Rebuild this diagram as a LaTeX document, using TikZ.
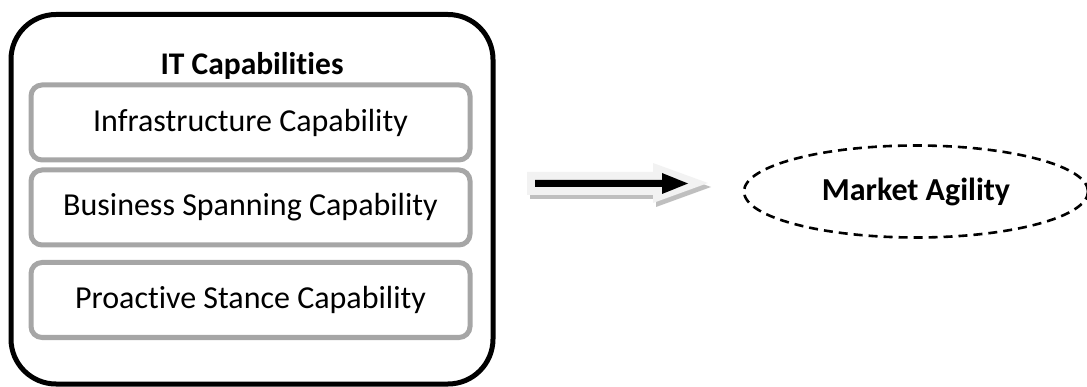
\documentclass[tikz,border=0pt]{standalone}
\usepackage{fontspec}
\setmainfont{Carlito}[Ligatures={NoCommon}]
\usetikzlibrary{shapes.geometric}
\definecolor{boxgray}{HTML}{A6A6A6}
\definecolor{arrowlight}{HTML}{F2F2F2}
\definecolor{arrowshadow}{HTML}{BFBFBF}
\tikzset{
  outerbox/.style={draw=black, line width=5pt, rounded corners=45pt},
  capbox/.style={draw=boxgray, line width=5pt, rounded corners=11pt, minimum width=439pt, minimum height=75pt, inner sep=0pt, font=\fontsize{32}{38}\selectfont},
  titletext/.style={font=\bfseries\fontsize{31.5}{38}\selectfont, inner sep=0pt},
  goalell/.style={ellipse, draw=black, line width=2.6pt, dash pattern=on 9pt off 6pt, minimum width=344pt, minimum height=92pt, inner sep=0pt, font=\bfseries\fontsize{32}{38}\selectfont},
}
\begin{document}
\begin{tikzpicture}[x=1pt,y=-1pt]
\useasboundingbox (0,0) rectangle (1087,387);
\draw[outerbox] (11,14.5) rectangle (493,384);
\node[titletext] (title) at (252,66) {IT Capabilities};
\node[capbox] (infra) at (250.5,122.5) {Infrastructure Capability};
\node[capbox] (span) at (250.5,207.5) {Business Spanning Capability};
\node[capbox] (pro) at (250.5,300) {Proactive Stance Capability};
% block arrow
\fill[arrowshadow] (530,176)--(656,176)--(656,167)--(711,187)--(656,207)--(656,199)--(530,199)--cycle;
\fill[arrowlight] (527,172)--(653,172)--(653,163)--(708,183)--(653,203)--(653,195)--(527,195)--cycle;
\fill[black] (535,180)--(662,180)--(662,173)--(688,183.5)--(662,194)--(662,187)--(535,187)--cycle;
\node[goalell] (agility) at (916,191.5) {Market Agility};
\end{tikzpicture}
\end{document}
